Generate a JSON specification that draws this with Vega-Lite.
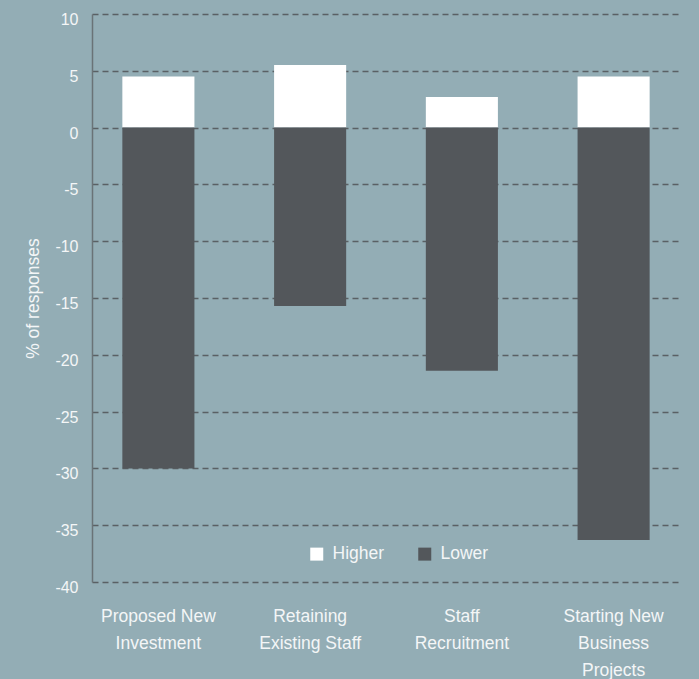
{
  "$schema": "https://vega.github.io/schema/vega-lite/v6.json",
  "autosize": "none",
  "width": 588,
  "height": 568,
  "padding": {"left": 92, "top": 14, "right": 19, "bottom": 97},
  "background": "#93adb5",
  "data": {
    "values": [
      {"category": "Proposed New Investment", "response": "Higher", "value": 4.5},
      {"category": "Proposed New Investment", "response": "Lower", "value": -30.0},
      {"category": "Retaining Existing Staff", "response": "Higher", "value": 5.5},
      {"category": "Retaining Existing Staff", "response": "Lower", "value": -15.7},
      {"category": "Staff Recruitment", "response": "Higher", "value": 2.7},
      {"category": "Staff Recruitment", "response": "Lower", "value": -21.4},
      {"category": "Starting New Business Projects", "response": "Higher", "value": 4.5},
      {"category": "Starting New Business Projects", "response": "Lower", "value": -36.3}
    ]
  },
  "config": {
    "font": "Liberation Sans",
    "view": {"stroke": null},
    "axis": {
      "labelColor": "#f4f6f7",
      "titleColor": "#f4f6f7",
      "labelFont": "Liberation Sans",
      "titleFont": "Liberation Sans"
    }
  },
  "mark": {"type": "bar"},
  "encoding": {
    "x": {
      "field": "category",
      "type": "nominal",
      "sort": null,
      "scale": {"paddingInner": 0.525, "paddingOuter": 0.2},
      "axis": {
        "title": null,
        "domain": false,
        "ticks": false,
        "labelAngle": 0,
        "labelFontSize": 17.5,
        "labelLineHeight": 27,
        "labelBaseline": "top",
        "labelPadding": 25,
        "labelLimit": 200,
        "labelExpr": "datum.value == 'Proposed New Investment' ? ['Proposed New', 'Investment'] : datum.value == 'Retaining Existing Staff' ? ['Retaining', 'Existing Staff'] : datum.value == 'Staff Recruitment' ? ['Staff', 'Recruitment'] : ['Starting New', 'Business', 'Projects']"
      }
    },
    "y": {
      "field": "value",
      "type": "quantitative",
      "stack": "zero",
      "scale": {"domain": [-40, 10], "nice": false},
      "axis": {
        "title": "% of responses",
        "titleFontSize": 17.5,
        "titleFontWeight": "normal",
        "titlePadding": 12,
        "values": [-40, -35, -30, -25, -20, -15, -10, -5, 0, 5, 10],
        "labelExpr": "'' + datum.value",
        "labelFontSize": 16,
        "labelPadding": 14,
        "labelOffset": 5.5,
        "ticks": false,
        "domainColor": "#6a7377",
        "domainWidth": 1.5,
        "grid": true,
        "gridColor": "#5a6064",
        "gridWidth": 1.3,
        "gridDash": [6, 4]
      }
    },
    "color": {
      "field": "response",
      "type": "nominal",
      "scale": {"domain": ["Higher", "Lower"], "range": ["#ffffff", "#53575b"]},
      "legend": {
        "title": null,
        "orient": "none",
        "legendX": 216,
        "legendY": 531,
        "direction": "horizontal",
        "symbolType": "square",
        "symbolSize": 169,
        "symbolStrokeWidth": 0,
        "labelFontSize": 17.5,
        "labelColor": "#f4f6f7",
        "labelOffset": 7,
        "columnPadding": 31
      }
    }
  }
}
